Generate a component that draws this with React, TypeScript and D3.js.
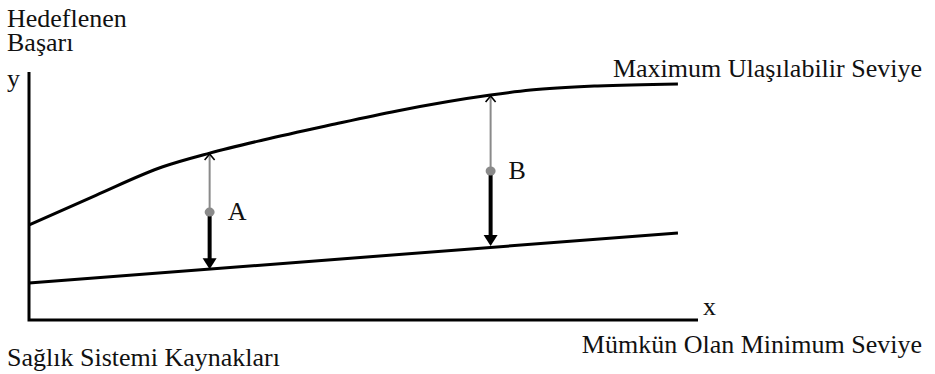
import React from "react"
import * as d3 from "d3"

// resources (x) vs. targeted success (y), arbitrary units 0..10
const upperX = [0, 1, 2, 2.7, 3.5, 4.5, 5.5, 6.9, 7.5, 8.5, 9.7]
const upperY = [3.83, 5.03, 6.18, 6.73, 7.26, 7.86, 8.43, 9.07, 9.27, 9.44, 9.52]
const lowerX = [0, 9.7]
const lowerY = [1.49, 3.51]

// gaps: name, x position, top, split point, bottom
const gapNames = ["A", "B"]
const gapX = [2.7, 6.9]
const gapTop = [6.73, 9.07]
const gapMid = [4.35, 6.01]
const gapBottom = [2.05, 2.98]

const W = 935
const H = 374
const FONT = "'Liberation Serif', 'DejaVu Serif Condensed', 'DejaVu Serif', serif"

export default function App() {
  const x = d3.scaleLinear().domain([0, 10]).range([29, 698])
  const y = d3.scaleLinear().domain([0, 10]).range([320, 72])

  const line = d3.line<[number, number]>()
    .x(d => x(d[0]))
    .y(d => y(d[1]))
    .curve(d3.curveMonotoneX)

  const upper = line(upperX.map((v, i) => [v, upperY[i]]))
  const lower = line(lowerX.map((v, i) => [v, lowerY[i]]))

  const tp = { fontFamily: FONT, fontSize: 26, fill: "#111" }

  return (
    <svg width={W} height={H} style={{ position: "absolute", left: 0, top: 0, background: "#fff" }}>
      {/* axes */}
      <path d={`M${x(0)},${y(10)} V${y(0)} H${x(10)}`} fill="none" stroke="#000" strokeWidth={3} />

      <path d={upper || ""} fill="none" stroke="#000" strokeWidth={3} />
      <path d={lower || ""} fill="none" stroke="#000" strokeWidth={3} />

      {gapNames.map((n, i) => {
        const cx = x(gapX[i])
        const top = y(gapTop[i])
        const mid = y(gapMid[i])
        const bot = y(gapBottom[i])
        return (
          <g key={n}>
            <line x1={cx} x2={cx} y1={mid} y2={top + 2} stroke="#8a8a8a" strokeWidth={2} />
            <path d={`M${cx - 5},${top + 7} L${cx},${top + 1} L${cx + 5},${top + 7}`} fill="none" stroke="#000" strokeWidth={1.6} />
            <line x1={cx} x2={cx} y1={mid} y2={bot - 10} stroke="#000" strokeWidth={4} />
            <path d={`M${cx - 7},${bot - 11} L${cx + 7},${bot - 11} L${cx},${bot} Z`} fill="#000" />
            <ellipse cx={cx} cy={mid} rx={5} ry={4.5} fill="#8a8a8a" />
            <text x={cx + 18} y={mid + 8} {...tp}>{n}</text>
          </g>
        )
      })}

      <text x={7} y={27} {...tp}>Hedeflenen</text>
      <text x={7} y={51} {...tp}>Başarı</text>
      <text x={7} y={87} {...tp}>y</text>
      <text x={703} y={315} {...tp}>x</text>
      <text x={922} y={77} textAnchor="end" {...tp}>Maximum Ulaşılabilir Seviye</text>
      <text x={922} y={353} textAnchor="end" {...tp}>Mümkün Olan Minimum Seviye</text>
      <text x={7} y={366} {...tp}>Sağlık Sistemi Kaynakları</text>
    </svg>
  )
}
